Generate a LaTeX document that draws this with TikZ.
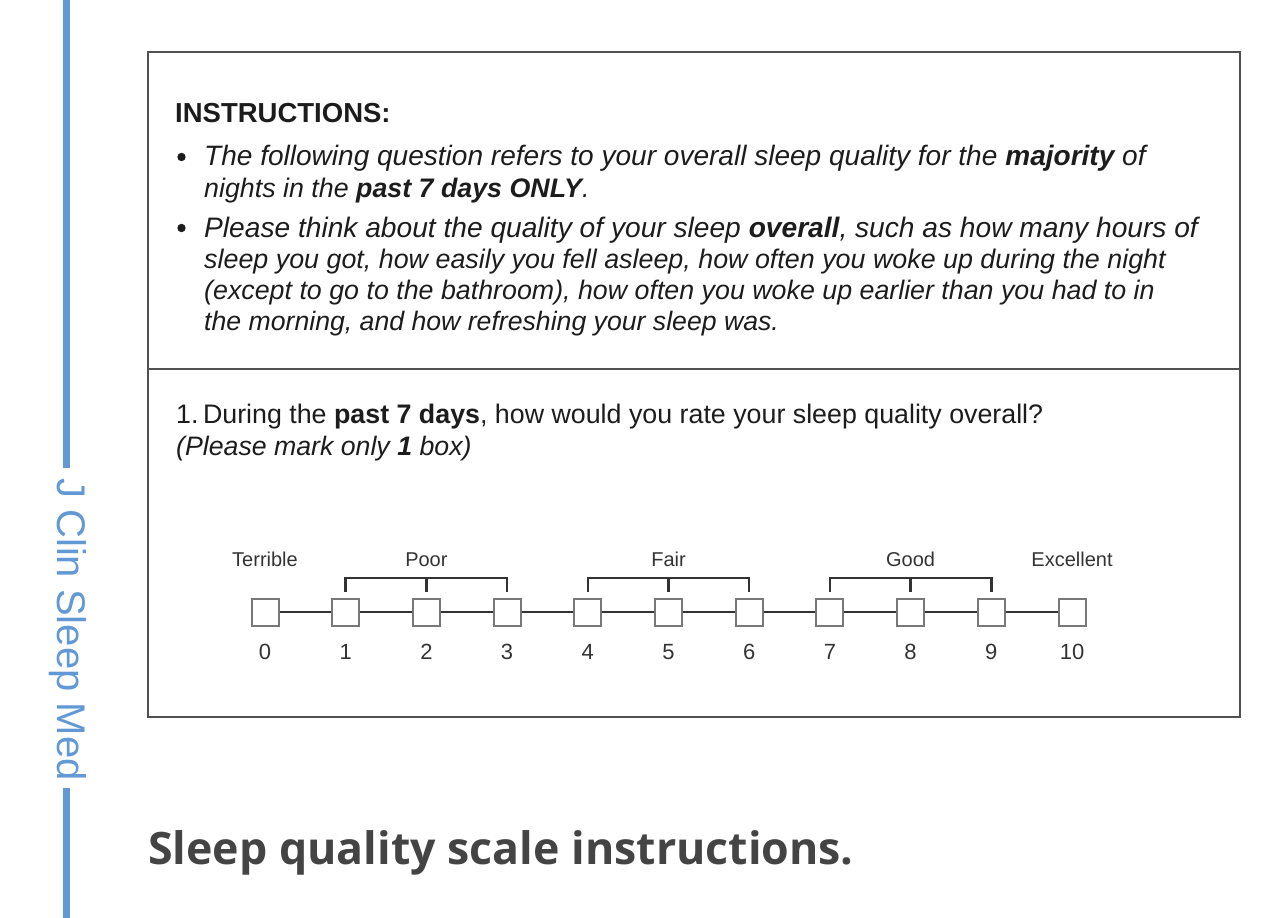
\documentclass[tikz,border=0pt]{standalone}
\usepackage{fontspec}
\setmainfont{Liberation Sans}
\newfontfamily\capfont{Open Sans}
\usetikzlibrary{calc}
\definecolor{sideblue}{RGB}{98,152,212}
\definecolor{txt}{RGB}{28,28,28}
\definecolor{framec}{RGB}{80,80,80}
\definecolor{capgray}{RGB}{68,68,68}
\definecolor{boxc}{RGB}{120,120,120}
\definecolor{linec}{RGB}{50,50,50}
\newcommand{\fsz}[1]{\fontsize{#1}{32}\selectfont}
\begin{document}
\begin{tikzpicture}[x=1pt,y=-1pt,
  body/.style={anchor=base west, inner sep=0, font=\fsz{26.85}, text=txt},
  scalebox/.style={draw=boxc, line width=2pt, fill=white, minimum size=27pt, inner sep=0},
  scalelabel/.style={anchor=base, inner sep=0, font=\fontsize{20}{24}\selectfont, text=txt!90},
  numlabel/.style={anchor=base, inner sep=0, font=\fontsize{22}{26}\selectfont, text=txt!90},
  bracket/.style={draw=linec, line width=2.5pt},
  joinline/.style={draw=linec, line width=2pt},
  bulletdot/.style={fill=txt, draw=none}
]
\useasboundingbox (0,0) rectangle (1280,918);

% side bar
\draw[sideblue, line width=7pt] (66,0) coordinate (s0) -- (66,468) coordinate (s1);
\draw[sideblue, line width=7pt] (66,788) coordinate (s2) -- (66,918) coordinate (s3);
\node[anchor=base west, rotate=-90, inner sep=0, font=\fontsize{40}{44}\selectfont, text=sideblue] (journal) at (57,478) {J Clin Sleep Med};

% frame
\draw[framec, line width=2pt] (148,52) rectangle (1240,717);
\draw[framec, line width=2pt] (148,369) coordinate (d0) -- (1240,369) coordinate (d1);

% instructions
\node[body, font=\fsz{27.5}] (t0) at (175,122) {\bfseries INSTRUCTIONS:};
\fill[bulletdot] (181.5,157) circle (4.2);
\node[body, font=\fsz{28.04}] (t1) at (204,165) {\itshape The following question refers to your overall sleep quality for the \textbf{majority} of};
\node[body, font=\fsz{26.8}] (t2) at (204,197) {\itshape nights in the \textbf{past 7 days ONLY}.};
\fill[bulletdot] (181.5,228) circle (4.2);
\node[body, font=\fsz{28.15}] (t3) at (204,237) {\itshape Please think about the quality of your sleep \textbf{overall}, such as how many hours of};
\node[body, font=\fsz{26.86}] (t4) at (204,268) {\itshape sleep you got, how easily you fell asleep, how often you woke up during the night};
\node[body, font=\fsz{26.8}] (t5) at (204,299) {\itshape (except to go to the bathroom), how often you woke up earlier than you had to in};
\node[body, font=\fsz{26.65}] (t6) at (204,330) {\itshape the morning, and how refreshing your sleep was.};

% question
\node[body, font=\fsz{26.8}] (q1) at (176,423) {1.\,During the \textbf{past 7 days}, how would you rate your sleep quality overall?};
\node[body, font=\fsz{26.7}] (q2) at (176,455) {\itshape (Please mark only \textbf{1} box)};

% scale boxes
\foreach \i in {0,...,10} {
  \node[scalebox] (b\i) at ({265+80.7*\i},612) {};
  \node[numlabel] (n\i) at ({265+80.7*\i},659) {\i};
}
\foreach \i [evaluate=\i as \j using int(\i+1)] in {0,...,9} {
  \draw[joinline] (b\i.east) -- (b\j.west);
}

% labels
\node[scalelabel] (lterrible) at (b0 |- 0,566) {Terrible};
\node[scalelabel] (lpoor) at (b2 |- 0,566) {Poor};
\node[scalelabel] (lfair) at (b5 |- 0,566) {Fair};
\node[scalelabel] (lgood) at (b8 |- 0,566) {Good};
\node[scalelabel] (lexc) at (b10 |- 0,566) {Excellent};

% brackets
\draw[bracket] ([yshift=5.5pt]b1.north) -- ++(0,-14) -| ([yshift=5.5pt]b3.north);
\draw[bracket] ([yshift=5.5pt]b2.north) -- ++(0,-14);
\draw[bracket] ([yshift=5.5pt]b4.north) -- ++(0,-14) -| ([yshift=5.5pt]b6.north);
\draw[bracket] ([yshift=5.5pt]b5.north) -- ++(0,-14);
\draw[bracket] ([yshift=5.5pt]b7.north) -- ++(0,-14) -| ([yshift=5.5pt]b9.north);
\draw[bracket] ([yshift=5.5pt]b8.north) -- ++(0,-14);

% caption
\node[anchor=base west, inner sep=0, font=\capfont\bfseries\fontsize{44.7}{50}\selectfont, text=capgray] (caption) at (148,864) {Sleep quality scale instructions.};
\end{tikzpicture}
\end{document}
